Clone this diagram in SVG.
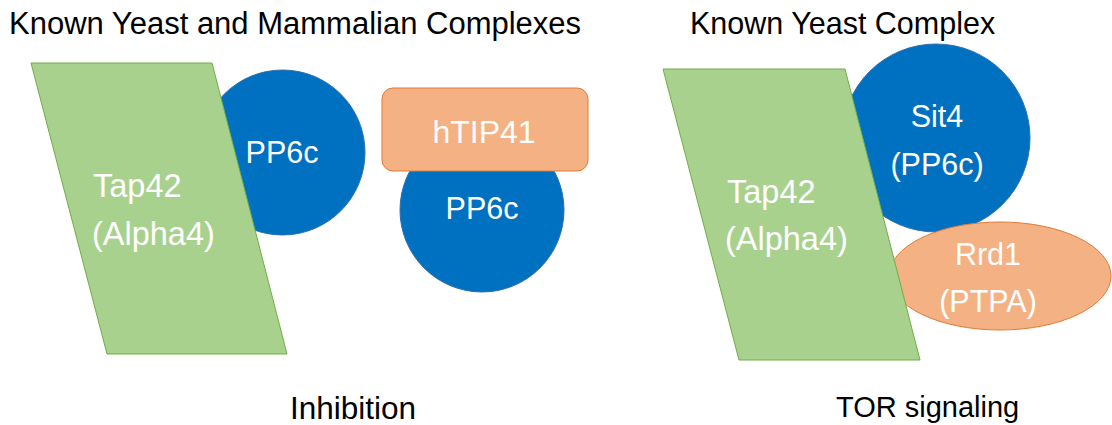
<svg xmlns="http://www.w3.org/2000/svg" width="1112" height="425" viewBox="0 0 1112 425">
<style>
text{font-family:"Liberation Sans",Arial,sans-serif;font-size:30.5px}
.title{fill:#000}
.lbl{fill:#fff}
.mid{text-anchor:middle}
.tap{font-size:32.5px}
.green{fill:#A9D18E;stroke:#70AD47;stroke-width:1}
.blue{fill:#0070C0;stroke:#2F6FB0;stroke-width:1}
.orange{fill:#F4B183;stroke:#E07B39;stroke-width:1}
</style>
<rect width="1112" height="425" fill="#fff"/>
<g id="titles">
<text class="title" x="9" y="34" style="font-size:31px">Known Yeast and Mammalian Complexes</text>
<text class="title" x="690" y="34">Known Yeast Complex</text>
<text class="title" x="290" y="419" style="font-size:31.5px">Inhibition</text>
<text class="title" x="836" y="417" style="font-size:29px">TOR signaling</text>
</g>
<g id="pp6c-left">
<circle class="blue" cx="282.5" cy="152.5" r="82.5"/>
<text class="lbl mid" x="282" y="163">PP6c</text>
</g>
<g id="tap42-left">
<polygon class="green" points="31,63 212,63 287,354 107,354"/>
<text class="lbl tap" x="93" y="197">Tap42</text>
<text class="lbl tap" x="92" y="245">(Alpha4)</text>
</g>
<g id="pp6c-mid">
<circle class="blue" cx="482" cy="210" r="82"/>
<text class="lbl mid" x="482" y="219">PP6c</text>
</g>
<g id="htip41">
<rect class="orange" x="382" y="88" width="206" height="83" rx="11"/>
<text class="lbl mid" x="484" y="143" style="font-size:32px">hTIP41</text>
</g>
<g id="sit4">
<circle class="blue" cx="936" cy="138" r="94"/>
<text class="lbl mid" x="937" y="127">Sit4</text>
<text class="lbl mid" x="937" y="175">(PP6c)</text>
</g>
<g id="rrd1">
<ellipse class="orange" cx="1000" cy="276" rx="111" ry="54"/>
<text class="lbl mid" x="988" y="265">Rrd1</text>
<text class="lbl mid" x="988" y="312">(PTPA)</text>
</g>
<g id="tap42-right">
<polygon class="green" points="663,69 845,69 920,360 739,360"/>
<text class="lbl tap" x="727" y="203">Tap42</text>
<text class="lbl tap" x="725" y="250">(Alpha4)</text>
</g>
</svg>
